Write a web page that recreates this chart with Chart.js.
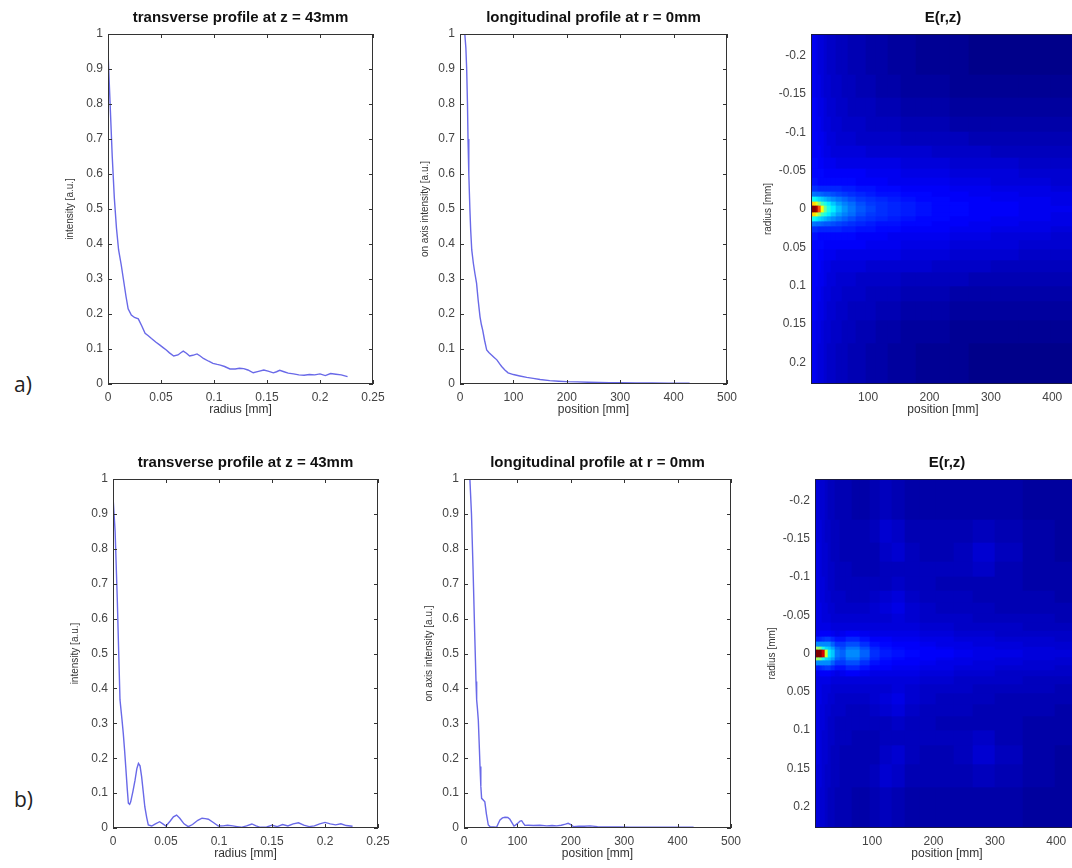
<!DOCTYPE html>
<html>
<head>
<meta charset="utf-8">
<script src="https://cdn.jsdelivr.net/npm/chart.js@4.4.0/dist/chart.umd.min.js"></script>
<style>
  html, body { margin: 0; padding: 0; background: #fff; overflow: hidden; }
  #page { position: relative; width: 1072px; height: 868px; overflow: hidden; }
  #page canvas { position: absolute; }
  .tag { position: absolute; font-family: "Open Sans", sans-serif; font-size: 21px; color: #222; line-height: 1; }
</style>
</head>
<body>
<div id="page">
  <div class="tag" style="left:14px;top:374px">a)</div>
  <div class="tag" style="left:14px;top:789px">b)</div>
</div>
<script>
// tick values
const tickIntensity = [0, 0.1, 0.2, 0.3, 0.4, 0.5, 0.6, 0.7, 0.8, 0.9, 1];
const tickRadius = [0, 0.05, 0.1, 0.15, 0.2, 0.25];
const tickPosition = [0, 100, 200, 300, 400, 500];
const tickMapPosition = [100, 200, 300, 400];
const tickMapRadius = [-0.2, -0.15, -0.1, -0.05, 0, 0.05, 0.1, 0.15, 0.2];

// a) transverse profile at z = 43mm
const transA_r = [0, 0.002, 0.004, 0.006, 0.008, 0.010, 0.0125, 0.0145, 0.017, 0.019,
  0.022, 0.025, 0.0286, 0.032, 0.035, 0.038, 0.041, 0.045, 0.049, 0.052,
  0.055, 0.058, 0.062, 0.066, 0.069, 0.071, 0.074, 0.077, 0.080, 0.084,
  0.087, 0.090, 0.095, 0.099, 0.103, 0.106, 0.110, 0.115, 0.120, 0.124,
  0.128, 0.132, 0.137, 0.142, 0.147, 0.151, 0.156, 0.159, 0.162, 0.166,
  0.170, 0.175, 0.180, 0.185, 0.190, 0.195, 0.200, 0.205, 0.210, 0.215,
  0.220, 0.226];
const transA_I = [0.95, 0.80, 0.65, 0.53, 0.445, 0.383, 0.34, 0.30, 0.25, 0.215,
  0.197, 0.19, 0.186, 0.165, 0.145, 0.138, 0.13, 0.12, 0.111, 0.104,
  0.097, 0.089, 0.08, 0.083, 0.09, 0.094, 0.088, 0.08, 0.082, 0.086,
  0.08, 0.073, 0.065, 0.059, 0.056, 0.054, 0.05, 0.043, 0.043, 0.045,
  0.044, 0.04, 0.032, 0.036, 0.04, 0.037, 0.032, 0.035, 0.039, 0.035,
  0.031, 0.029, 0.026, 0.025, 0.027, 0.026, 0.029, 0.024, 0.03, 0.028,
  0.026, 0.021];

// a) longitudinal profile at r = 0mm
const longA_z = [9, 11, 12.5, 14, 15, 16.5, 18.5, 20, 22, 25,
  28, 31, 34, 37.5, 40, 42.5, 46, 50, 54, 59,
  64, 69, 74, 78, 84, 90, 100, 112, 125, 137,
  150, 168, 185, 200, 220, 240, 260, 280, 300, 330,
  360, 390, 410, 430];
const longA_I = [1.0, 0.96, 0.9, 0.8, 0.7, 0.6, 0.5, 0.44, 0.383, 0.345,
  0.315, 0.288, 0.24, 0.192, 0.17, 0.154, 0.125, 0.097, 0.09, 0.083,
  0.076, 0.069, 0.058, 0.05, 0.04, 0.032, 0.027, 0.023, 0.019, 0.016,
  0.013, 0.0095, 0.008, 0.0067, 0.006, 0.005, 0.0045, 0.004, 0.0035, 0.003,
  0.0028, 0.0025, 0.0022, 0.002];

// b) transverse profile at z = 43mm
const transB_r = [0, 0.002, 0.004, 0.0055, 0.0066, 0.0085, 0.0097, 0.011, 0.012, 0.0135,
  0.0145, 0.0157, 0.0167, 0.0188, 0.0208, 0.0225, 0.024, 0.0255, 0.027, 0.0285,
  0.030, 0.0318, 0.0333, 0.0365, 0.040, 0.044, 0.047, 0.050, 0.054, 0.057,
  0.060, 0.063, 0.067, 0.071, 0.075, 0.080, 0.084, 0.087, 0.090, 0.095,
  0.0994, 0.104, 0.108, 0.113, 0.117, 0.121, 0.126, 0.131, 0.135, 0.139,
  0.145, 0.150, 0.155, 0.160, 0.165, 0.170, 0.175, 0.180, 0.185, 0.190,
  0.195, 0.200, 0.205, 0.210, 0.215, 0.220, 0.226];
const transB_I = [0.95, 0.85, 0.66, 0.49, 0.367, 0.31, 0.271, 0.22, 0.176, 0.11,
  0.071, 0.068, 0.075, 0.105, 0.137, 0.17, 0.185, 0.178, 0.147, 0.105,
  0.061, 0.03, 0.0086, 0.0057, 0.012, 0.018, 0.012, 0.0057, 0.02, 0.032,
  0.037, 0.028, 0.012, 0.004, 0.01, 0.022, 0.028, 0.027, 0.025, 0.015,
  0.0057, 0.006, 0.008, 0.006, 0.004, 0.002, 0.006, 0.0115, 0.006, 0.002,
  0.003, 0.008, 0.004, 0.01, 0.006, 0.012, 0.015, 0.008, 0.004, 0.006,
  0.012, 0.016, 0.012, 0.009, 0.012, 0.007, 0.005];

// b) longitudinal profile at r = 0mm
const longB_z = [11, 14, 17, 20, 22.5, 23.7, 25, 26.8, 28.5, 30,
  31.5, 33, 36, 39, 42, 45.5, 48.7, 55, 61, 64,
  67.4, 72, 76.8, 82, 86, 90, 93.6, 97, 101.7, 105,
  108, 111, 114, 120, 130, 142, 155, 165, 173.6, 182,
  190, 195, 200, 204.7, 215, 225, 236, 250, 270, 290,
  310, 330, 350, 370, 390, 410, 430];
const longB_I = [1.0, 0.9, 0.74, 0.56, 0.42, 0.367, 0.345, 0.309, 0.24, 0.176,
  0.12, 0.085, 0.08, 0.075, 0.04, 0.0086, 0.004, 0.003, 0.002, 0.012,
  0.023, 0.029, 0.0306, 0.03, 0.025, 0.015, 0.0057, 0.009, 0.015, 0.02,
  0.021, 0.014, 0.0076, 0.008, 0.007, 0.008, 0.006, 0.007, 0.006, 0.008,
  0.011, 0.0134, 0.01, 0.004, 0.005, 0.005, 0.006, 0.004, 0.003, 0.003,
  0.0025, 0.002, 0.002, 0.002, 0.002, 0.002, 0.002];

// E(r,z) maps: column centres [mm], |r| band edges [mm], values in % (rows from axis outwards)
const mapCols = [9, 13, 17, 21, 25, 30, 36, 43, 52, 62, 74, 88, 104, 122, 142, 165, 190, 218, 248, 280, 320, 370, 425];
const mapRowEdges = [0.004, 0.009, 0.015, 0.022, 0.030, 0.040, 0.052, 0.066, 0.082, 0.100, 0.120, 0.145, 0.175, 0.23];
const mapA = [
  [100,100,96,80,62,48,40,36,31,27,24,21,19,17,16,15,14,13,13,12,12,11,11],
  [70,66,60,52,44,40,36,32,28,25,23,20,18,17,16,15,14,13,13,12,12,11,10],
  [40,38,36,34,32,30,28,26,24,22,20,18,17,16,15,14,13,13,12,12,11,11,10],
  [24,24,23,23,22,21,21,20,19,18,17,16,15,14,14,13,13,12,12,11,11,10,10],
  [17,17,17,16,16,16,16,16,16,15,15,14,14,13,13,12,12,12,11,11,10,10,9],
  [14,14,14,13,13,13,13,13,13,13,13,12,12,12,11,11,11,11,10,10,9,9,8],
  [13,13,13,13,13,12,12,12,12,12,12,12,11,11,11,10,10,10,9,9,9,8,8],
  [13,13,13,12,12,11,11,11,10,10,10,10,10,10,10,9,9,9,8,8,8,7,7],
  [12,12,12,12,11,10,10,9,9,9,9,9,8,8,8,8,8,7,7,7,6,6,6],
  [12,12,12,11,11,10,9,9,8,8,8,7,7,7,7,6,6,6,6,5,5,5,5],
  [12,12,11,11,10,9,9,8,8,7,7,7,6,6,6,5,5,5,4,4,4,4,4],
  [12,12,11,10,10,9,8,8,7,7,6,6,6,5,5,4,4,4,3,3,3,3,3],
  [11,11,10,10,9,8,8,7,7,6,6,5,5,4,4,3,3,3,2,2,2,2,2],
  [11,11,10,9,9,8,7,7,6,6,5,5,4,4,3,3,2,2,2,1,1,1,1]
];
const mapB = [
  [100,100,100,92,58,36,32,24,22,26,26,22,17,15,14,13,12,12,11,10,10,9,9],
  [55,52,48,40,34,32,28,22,20,24,24,20,16,14,13,12,12,11,10,10,9,9,8],
  [26,26,26,26,26,26,22,18,18,20,20,17,14,13,12,12,11,10,10,9,9,8,8],
  [15,15,16,17,18,18,16,14,14,16,16,14,12,12,11,11,10,10,9,9,8,8,7],
  [11,11,12,12,12,12,11,10,11,12,12,11,10,10,10,10,9,9,8,8,7,7,7],
  [10,10,10,10,10,10,9,9,9,9,9,9,9,9,9,9,8,8,7,7,7,6,6],
  [10,10,10,9,9,9,8,8,8,8,8,8,8,8,9,8,7,7,7,6,6,6,5],
  [10,10,10,9,9,8,8,7,7,7,7,7,8,9,10,8,7,6,6,6,5,5,5],
  [10,10,9,9,8,8,7,7,7,6,6,6,7,8,9,7,6,6,6,5,5,5,4],
  [10,10,9,9,8,7,7,6,6,6,6,6,6,6,7,6,6,5,5,5,5,4,4],
  [10,10,9,8,8,7,7,6,6,6,5,5,5,6,6,6,6,6,6,7,5,4,4],
  [10,10,9,8,8,7,6,6,5,5,5,5,5,7,8,6,5,5,6,8,6,4,3],
  [10,9,9,8,7,7,6,6,5,5,5,5,6,8,7,5,5,5,5,6,5,4,3],
  [9,9,8,8,7,6,6,5,5,5,4,4,5,6,5,4,4,4,4,4,4,3,3]
];

Chart.defaults.font.family = '"Liberation Sans", Arial, sans-serif';
const lineBlue = 'rgb(105,105,232)';
const tickGrey = '#444';
const labelGrey = '#333';
const Y_AXIS_W = 60, X_AXIS_H = 36, TITLE_H = 26;

function fmt(v) { return String(Math.round(v * 1000) / 1000); }
function setTicks(values) { return s => { s.ticks = values.map(v => ({ value: v })); }; }

function jet(v) {
  const c = t => Math.round(255 * Math.min(1, Math.max(0, 1.5 - Math.abs(4 * v - t))));
  return 'rgb(' + c(3) + ',' + c(2) + ',' + c(1) + ')';
}

// axes box with inward ticks, matlab style
const boxTicks = {
  id: 'boxTicks',
  afterDatasetsDraw(chart, args, opts) {
    const { ctx, chartArea: a, scales: { x, y } } = chart;
    ctx.save();
    ctx.strokeStyle = opts.color || '#333';
    ctx.lineWidth = 1;
    ctx.strokeRect(Math.round(a.left) + 0.5, Math.round(a.top) + 0.5, Math.round(a.width) - 1, Math.round(a.height) - 1);
    if (opts.ticks) {
      ctx.beginPath();
      x.ticks.forEach(t => {
        const px = Math.round(x.getPixelForValue(t.value)) + 0.5;
        ctx.moveTo(px, a.bottom); ctx.lineTo(px, a.bottom - 4);
        ctx.moveTo(px, a.top); ctx.lineTo(px, a.top + 4);
      });
      y.ticks.forEach(t => {
        const py = Math.round(y.getPixelForValue(t.value)) + 0.5;
        ctx.moveTo(a.left, py); ctx.lineTo(a.left + 4, py);
        ctx.moveTo(a.right, py); ctx.lineTo(a.right - 4, py);
      });
      ctx.stroke();
    }
    ctx.restore();
  }
};

// snap heatmap cells to whole pixels so neighbouring cells leave no seams
const snapCells = {
  id: 'snapCells',
  afterDatasetsUpdate(chart) {
    chart.data.datasets.forEach((ds, i) => {
      chart.getDatasetMeta(i).data.forEach(el => {
        const l = Math.round(el.x - el.width / 2), r = Math.round(el.x + el.width / 2);
        el.x = (l + r) / 2;
        el.width = r - l;
        el.y = Math.round(el.y);
        el.base = Math.round(el.base);
      });
    });
  }
};

function makeCanvas(left, top, w, h) {
  const cv = document.createElement('canvas');
  cv.width = w; cv.height = h;
  cv.style.left = left + 'px'; cv.style.top = top + 'px';
  cv.style.width = w + 'px'; cv.style.height = h + 'px';
  document.getElementById('page').appendChild(cv);
  return cv;
}

function titleOpts(text) {
  return { display: true, text: text, fullSize: false, color: '#111',
    font: { size: 15, weight: 'bold', lineHeight: 1 }, padding: { top: 2, bottom: 9 } };
}

function axisX(min, max, ticks, title) {
  return {
    type: 'linear', min: min, max: max, offset: false,
    afterBuildTicks: setTicks(ticks), afterFit: s => { s.height = X_AXIS_H; },
    grid: { display: false, drawTicks: false, offset: false }, border: { display: false },
    ticks: { padding: 6, color: tickGrey, font: { size: 12 }, callback: fmt, maxRotation: 0, autoSkip: false },
    title: { display: true, text: title, color: labelGrey, font: { size: 12 }, padding: { top: 0, bottom: 3 } }
  };
}

function axisY(min, max, ticks, title, titlePad, reverse) {
  return {
    type: 'linear', min: min, max: max, reverse: !!reverse, beginAtZero: false,
    afterBuildTicks: setTicks(ticks), afterFit: s => { s.width = Y_AXIS_W; },
    grid: { display: false, drawTicks: false }, border: { display: false },
    ticks: { padding: 5, color: tickGrey, font: { size: 12 }, callback: fmt, autoSkip: false },
    title: { display: true, text: title, color: labelGrey, font: { size: 10 }, padding: { top: titlePad, bottom: 0 } }
  };
}

function profileChart(p, title, xTitle, yTitle, yPad, xs, ys, xMax, xTicks) {
  const cv = makeCanvas(p.left - Y_AXIS_W, p.top - TITLE_H, Y_AXIS_W + p.w + 20, TITLE_H + p.h + X_AXIS_H);
  new Chart(cv, {
    type: 'line',
    data: { datasets: [{ data: xs.map((x, i) => ({ x: x, y: ys[i] })), borderColor: lineBlue,
      borderWidth: 1.4, pointRadius: 0, tension: 0, fill: false }] },
    options: {
      responsive: false, animation: false, events: [], devicePixelRatio: 1,
      layout: { padding: { right: 20 } },
      plugins: { legend: { display: false }, tooltip: { enabled: false }, title: titleOpts(title),
        boxTicks: { ticks: true, color: '#333' } },
      scales: { x: axisX(0, xMax, xTicks, xTitle), y: axisY(0, 1, tickIntensity, yTitle, yPad) }
    },
    plugins: [boxTicks]
  });
}

function mapDatasets(grid) {
  const sets = [];
  grid.forEach((row, k) => {
    const colors = row.map(v => jet(v / 100));
    const bands = k === 0 ? [[-mapRowEdges[0], mapRowEdges[0]]]
      : [[mapRowEdges[k - 1], mapRowEdges[k]], [-mapRowEdges[k], -mapRowEdges[k - 1]]];
    bands.forEach(b => sets.push({
      data: mapCols.map(z => ({ x: z, y: b })), backgroundColor: colors, borderWidth: 0,
      barThickness: 'flex', categoryPercentage: 1, barPercentage: 1, clip: 0
    }));
  });
  return sets;
}

function mapChart(p, grid) {
  const cv = makeCanvas(p.left - Y_AXIS_W, p.top - TITLE_H, Y_AXIS_W + p.w, TITLE_H + p.h + X_AXIS_H);
  const x = axisX(7, 437, tickMapPosition, 'position [mm]');
  x.stacked = true;
  const y = axisY(-0.228, 0.228, tickMapRadius, 'radius [mm]', 11, true);
  y.stacked = false;
  new Chart(cv, {
    type: 'bar',
    data: { datasets: mapDatasets(grid) },
    options: {
      responsive: false, animation: false, events: [], devicePixelRatio: 1,
      plugins: { legend: { display: false }, tooltip: { enabled: false }, title: titleOpts('E(r,z)'),
        boxTicks: { ticks: false, color: '#1a1a40' } },
      scales: { x: x, y: y }
    },
    plugins: [snapCells, boxTicks]
  });
}

profileChart({ left: 108, top: 34, w: 265, h: 350 }, 'transverse profile at z = 43mm', 'radius [mm]',
  'intensity [a.u.]', 16, transA_r, transA_I, 0.25, tickRadius);
profileChart({ left: 460, top: 34, w: 267, h: 350 }, 'longitudinal profile at r = 0mm', 'position [mm]',
  'on axis intensity [a.u.]', 19, longA_z, longA_I, 500, tickPosition);
mapChart({ left: 811, top: 34, w: 264, h: 350 }, mapA);

profileChart({ left: 113, top: 479, w: 265, h: 349 }, 'transverse profile at z = 43mm', 'radius [mm]',
  'intensity [a.u.]', 16, transB_r, transB_I, 0.25, tickRadius);
profileChart({ left: 464, top: 479, w: 267, h: 349 }, 'longitudinal profile at r = 0mm', 'position [mm]',
  'on axis intensity [a.u.]', 19, longB_z, longB_I, 500, tickPosition);
mapChart({ left: 815, top: 479, w: 264, h: 349 }, mapB);
</script>
</body>
</html>
